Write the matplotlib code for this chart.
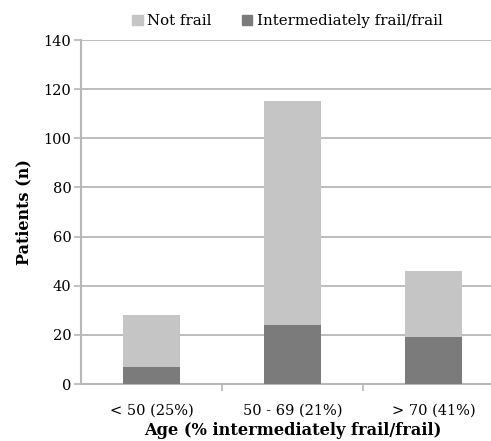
import matplotlib
matplotlib.use("Agg")
import matplotlib.pyplot as plt
from matplotlib.patches import Patch

categories = ["< 50 (25%)", "50 - 69 (21%)", "> 70 (41%)"]
frail = [7, 24, 19]
not_frail = [21, 91, 27]
yticks = [0, 20, 40, 60, 80, 100, 120, 140]

light = "#c4c5c4"
dark = "#7b7b7b"
grid_c = "#b8b8b8"

plt.rcParams["font.family"] = ["DejaVu Serif"]

fig = plt.figure(figsize=(4.91, 4.41), dpi=100)
ax = fig.add_axes([81 / 491, 1 - 384 / 441, 423 / 491, 344 / 441])

x = list(range(len(categories)))
ax.bar(x, frail, width=0.404, color=dark, zorder=3)
ax.bar(x, not_frail, bottom=frail, width=0.404, color=light, zorder=3)

ax.set_xlim(-0.5, 2.5)
ax.set_ylim(0, 140)
ax.set_yticks(yticks)
ax.yaxis.grid(True, color=grid_c, linewidth=1.3, zorder=0)
ax.set_xticks([0.5, 1.5], minor=False)
ax.set_xticklabels([])
ax.set_xticks(x, minor=True)
ax.set_xticklabels(categories, minor=True, fontsize=10.5)
ax.tick_params(axis="x", which="minor", length=0, pad=14)
ax.tick_params(axis="x", which="major", length=5, color=grid_c, width=1.2)
ax.tick_params(axis="y", length=5, color=grid_c, width=1.2, labelsize=10.5, pad=2)

for s in ["top", "right"]:
    ax.spines[s].set_visible(False)
for s in ["left", "bottom"]:
    ax.spines[s].set_color(grid_c)
    ax.spines[s].set_linewidth(1.5)

ax.set_ylabel("Patients (n)", fontsize=11.5, fontweight="bold", labelpad=8)
ax.set_xlabel("Age (% intermediately frail/frail)", fontsize=11.7, fontweight="bold", labelpad=3)

handles = [Patch(color=light, label="Not frail"), Patch(color=dark, label="Intermediately frail/frail")]
fig.legend(handles=handles, loc="center", bbox_to_anchor=(0.585, 1 - 21 / 441), ncol=2,
           frameon=False, fontsize=10.8, handlelength=0.7, handleheight=0.7,
           handletextpad=0.3, columnspacing=2.0)

fig.savefig("out.png", dpi=100)
